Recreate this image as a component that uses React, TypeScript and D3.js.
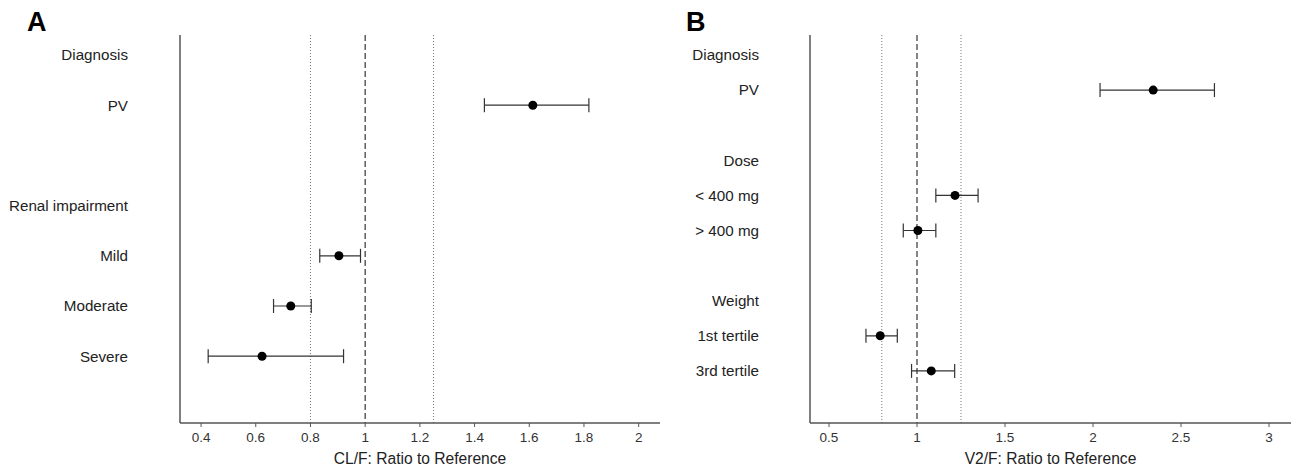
import React from "react";
import * as d3 from "d3";

// Panel A: CL/F
const rowsA = ["Diagnosis", "PV", "", "Renal impairment", "Mild", "Moderate", "Severe"];
const estA = [
  { row: "PV", est: 1.613, lo: 1.436, hi: 1.818 },
  { row: "Mild", est: 0.904, lo: 0.834, hi: 0.983 },
  { row: "Moderate", est: 0.728, lo: 0.665, hi: 0.803 },
  { row: "Severe", est: 0.623, lo: 0.426, hi: 0.921 },
];
const ticksA = [0.4, 0.6, 0.8, 1, 1.2, 1.4, 1.6, 1.8, 2];
const titleA = "CL/F: Ratio to Reference";

// Panel B: V2/F
const rowsB = ["Diagnosis", "PV", "", "Dose", "< 400 mg", "> 400 mg", "", "Weight", "1st tertile", "3rd tertile"];
const estB = [
  { row: "PV", est: 2.342, lo: 2.04, hi: 2.69 },
  { row: "< 400 mg", est: 1.216, lo: 1.107, hi: 1.347 },
  { row: "> 400 mg", est: 1.005, lo: 0.922, hi: 1.107 },
  { row: "1st tertile", est: 0.791, lo: 0.71, hi: 0.888 },
  { row: "3rd tertile", est: 1.081, lo: 0.969, hi: 1.214 },
];
const ticksB = [0.5, 1, 1.5, 2, 2.5, 3];
const titleB = "V2/F: Ratio to Reference";

const refDotted = [0.8, 1.25];
const refDashed = [1];

type Est = { row: string; est: number; lo: number; hi: number };

function Panel(props: {
  letter: string;
  letterX: number;
  rows: string[];
  ests: Est[];
  ticks: number[];
  title: string;
  axisX: number;
  axisEnd: number;
  labelX: number;
  domain: [number, number];
  firstRowY: number;
  rowStep: number;
}) {
  const top = 35;
  const bottom = 423;
  const x = d3.scaleLinear().domain(props.domain).range([props.axisX, props.axisEnd]);
  const y = d3
    .scaleLinear()
    .domain([0, props.rows.length - 1])
    .range([props.firstRowY, props.firstRowY + props.rowStep * (props.rows.length - 1)]);
  const rowIndex = (r: string) => props.rows.indexOf(r);
  const fmt = (v: number) => String(v);
  const font = "Liberation Sans, Arial, sans-serif";
  return (
    <g>
      <text x={props.letterX} y={31} fontFamily={font} fontWeight="bold" fontSize={27} fill="#000">
        {props.letter}
      </text>
      {props.rows.map((r, i) =>
        r ? (
          <text
            key={i}
            x={props.labelX}
            y={y(i)}
            dy="0.35em"
            textAnchor="end"
            fontFamily={font}
            fontSize={15.2}
            fill="#222"
          >
            {r}
          </text>
        ) : null
      )}
      {refDotted.map((v) => (
        <line
          key={"d" + v}
          x1={x(v)}
          x2={x(v)}
          y1={top}
          y2={bottom}
          stroke="#777"
          strokeWidth={1}
          strokeDasharray="1,2"
        />
      ))}
      {refDashed.map((v) => (
        <line
          key={"s" + v}
          x1={x(v)}
          x2={x(v)}
          y1={top}
          y2={bottom}
          stroke="#333"
          strokeWidth={1.2}
          strokeDasharray="6,3"
        />
      ))}
      {props.ests.map((e) => {
        const yy = y(rowIndex(e.row));
        return (
          <g key={e.row}>
            <line x1={x(e.lo)} x2={x(e.hi)} y1={yy} y2={yy} stroke="#333" strokeWidth={1.2} />
            <line x1={x(e.lo)} x2={x(e.lo)} y1={yy - 7} y2={yy + 7} stroke="#333" strokeWidth={1.2} />
            <line x1={x(e.hi)} x2={x(e.hi)} y1={yy - 7} y2={yy + 7} stroke="#333" strokeWidth={1.2} />
            <circle cx={x(e.est)} cy={yy} r={4.5} fill="#000" />
          </g>
        );
      })}
      <line x1={props.axisX} x2={props.axisX} y1={top} y2={bottom} stroke="#555" strokeWidth={1.5} />
      <line x1={props.axisX} x2={props.axisEnd} y1={bottom} y2={bottom} stroke="#555" strokeWidth={1.5} />
      {props.ticks.map((t) => (
        <g key={t}>
          <line x1={x(t)} x2={x(t)} y1={bottom} y2={bottom + 4} stroke="#555" strokeWidth={1} />
          <text
            x={x(t)}
            y={437}
            dy="0.35em"
            textAnchor="middle"
            fontFamily={font}
            fontSize={13.5}
            fill="#333"
          >
            {fmt(t)}
          </text>
        </g>
      ))}
      <text
        x={(props.axisX + props.axisEnd) / 2}
        y={459}
        dy="0.35em"
        textAnchor="middle"
        fontFamily={font}
        fontSize={15.6}
        fill="#222"
      >
        {props.title}
      </text>
    </g>
  );
}

export default function App() {
  return (
    <svg
      width={1291}
      height={469}
      style={{ position: "absolute", left: 0, top: 0, background: "#fff" }}
    >
      <rect width={1291} height={469} fill="#fff" />
      <Panel
        letter="A"
        letterX={27}
        rows={rowsA}
        ests={estA}
        ticks={ticksA}
        title={titleA}
        axisX={180}
        axisEnd={660}
        labelX={128}
        domain={[0.323, 2.078]}
        firstRowY={55}
        rowStep={50.2}
      />
      <Panel
        letter="B"
        letterX={686}
        rows={rowsB}
        ests={estB}
        ticks={ticksB}
        title={titleB}
        axisX={810}
        axisEnd={1291}
        labelX={759}
        domain={[0.392, 3.125]}
        firstRowY={55}
        rowStep={35.1}
      />
    </svg>
  );
}
